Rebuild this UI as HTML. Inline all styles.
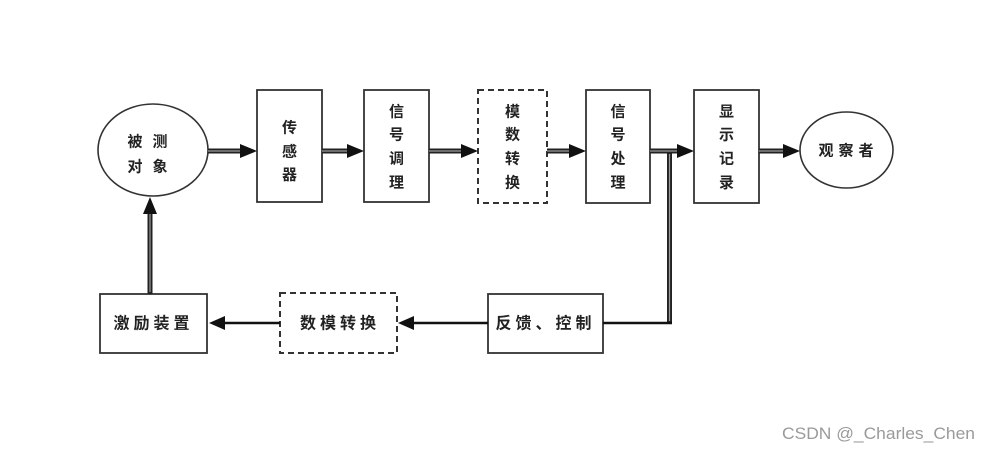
<!DOCTYPE html>
<html>
<head>
<meta charset="utf-8">
<style>
  html, body { margin:0; padding:0; background:#fff; }
  body { width:991px; height:452px; overflow:hidden; }
  svg { display:block; }
  .t { font-family: "Liberation Sans", "Noto Sans CJK SC", sans-serif; font-size:15px; font-weight:bold; fill:#222; }
</style>
</head>
<body>
<svg width="991" height="452" viewBox="0 0 991 452" xmlns="http://www.w3.org/2000/svg">
  <defs>
    <g id="ahR"><polygon points="0,-7 17,0 0,7" fill="#111"/></g>
  </defs>

  <!-- Ellipses -->
  <ellipse cx="153" cy="150" rx="55" ry="46" fill="#fff" stroke="#333" stroke-width="1.6"/>
  <ellipse cx="846.5" cy="150" rx="46.5" ry="38" fill="#fff" stroke="#333" stroke-width="1.6"/>

  <!-- Top row boxes -->
  <rect x="257" y="90" width="65" height="112" fill="#fff" stroke="#333" stroke-width="1.8"/>
  <rect x="364" y="90" width="65" height="112" fill="#fff" stroke="#333" stroke-width="1.8"/>
  <rect x="478" y="90" width="69" height="113" fill="#fff" stroke="#333" stroke-width="2" stroke-dasharray="6,4"/>
  <rect x="586" y="90" width="64" height="113" fill="#fff" stroke="#333" stroke-width="1.8"/>
  <rect x="694" y="90" width="65" height="113" fill="#fff" stroke="#333" stroke-width="1.8"/>

  <!-- Bottom row boxes -->
  <rect x="100" y="294" width="107" height="59" fill="#fff" stroke="#333" stroke-width="1.8"/>
  <rect x="280" y="293" width="117" height="60" fill="#fff" stroke="#333" stroke-width="2" stroke-dasharray="6,4"/>
  <rect x="488" y="294" width="115" height="59" fill="#fff" stroke="#333" stroke-width="1.8"/>

  <!-- Top row double-line connectors -->
  <g stroke="#222" stroke-width="5">
    <line x1="208" y1="151" x2="241" y2="151"/>
    <line x1="322" y1="151" x2="348" y2="151"/>
    <line x1="429" y1="151" x2="462" y2="151"/>
    <line x1="547" y1="151" x2="570" y2="151"/>
    <line x1="650" y1="151" x2="678" y2="151"/>
    <line x1="759" y1="151" x2="784" y2="151"/>
    <line x1="669.5" y1="151" x2="669.5" y2="323"/>
    <line x1="150" y1="294" x2="150" y2="213"/>
  </g>
  <g stroke="#9a9a9a" stroke-width="1.2">
    <line x1="208" y1="151" x2="241" y2="151"/>
    <line x1="322" y1="151" x2="348" y2="151"/>
    <line x1="429" y1="151" x2="462" y2="151"/>
    <line x1="547" y1="151" x2="570" y2="151"/>
    <line x1="650" y1="151" x2="678" y2="151"/>
    <line x1="759" y1="151" x2="784" y2="151"/>
    <line x1="669.5" y1="154" x2="669.5" y2="321"/>
    <line x1="150" y1="292" x2="150" y2="213"/>
  </g>

  <!-- Top arrowheads -->
  <use href="#ahR" x="240" y="151"/>
  <use href="#ahR" x="347" y="151"/>
  <use href="#ahR" x="461" y="151"/>
  <use href="#ahR" x="569" y="151"/>
  <use href="#ahR" x="677" y="151"/>
  <use href="#ahR" x="783" y="151"/>
  <!-- Up arrowhead -->
  <polygon points="143,214 150,197 157,214" fill="#111"/>

  <!-- Bottom thin connectors -->
  <g stroke="#111" stroke-width="2.6">
    <line x1="603" y1="323" x2="672" y2="323"/>
    <line x1="413" y1="323" x2="488" y2="323"/>
    <line x1="224" y1="323" x2="280" y2="323"/>
  </g>
  <polygon points="398,323 414,316 414,330" fill="#111"/>
  <polygon points="209,323 225,316 225,330" fill="#111"/>

  <!-- Ellipse texts -->
  <g class="t" text-anchor="middle" dominant-baseline="central">
    <text x="135" y="142">被</text><text x="160" y="142">测</text>
    <text x="135" y="167">对</text><text x="160" y="167">象</text>
    <text x="826" y="151">观</text><text x="846" y="151">察</text><text x="866" y="151">者</text>

    <!-- 传感器 -->
    <text x="289.5" y="128">传</text>
    <text x="289.5" y="152">感</text>
    <text x="289.5" y="175">器</text>
    <!-- 信号调理 -->
    <text x="396.5" y="112">信</text>
    <text x="396.5" y="135">号</text>
    <text x="396.5" y="159">调</text>
    <text x="396.5" y="183">理</text>
    <!-- 模数转换 -->
    <text x="512.5" y="112">模</text>
    <text x="512.5" y="135">数</text>
    <text x="512.5" y="159">转</text>
    <text x="512.5" y="183">换</text>
    <!-- 信号处理 -->
    <text x="618" y="112">信</text>
    <text x="618" y="135">号</text>
    <text x="618" y="159">处</text>
    <text x="618" y="183">理</text>
    <!-- 显示记录 -->
    <text x="726.5" y="112">显</text>
    <text x="726.5" y="135">示</text>
    <text x="726.5" y="159">记</text>
    <text x="726.5" y="183">录</text>

    <!-- Bottom boxes -->
    <text x="153.5" y="324" style="font-size:16px" letter-spacing="4">激励装置</text>
    <text x="340" y="324" style="font-size:16px" letter-spacing="4">数模转换</text>
    <text x="545.5" y="324" style="font-size:16px" letter-spacing="4">反馈、控制</text>
  </g>

  <!-- Watermark -->
  <text x="782" y="439" font-family="Liberation Sans, sans-serif" font-size="17" fill="#9a9a9a" textLength="193" lengthAdjust="spacingAndGlyphs">CSDN @_Charles_Chen</text>
</svg>
</body>
</html>
